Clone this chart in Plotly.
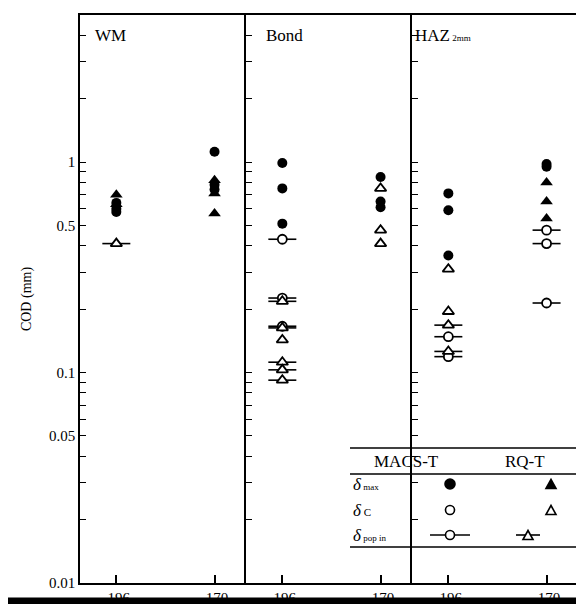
import plotly.graph_objects as go

# ---------------- data ----------------
categories = ["-196", "-170"]
panels = ["WM", "Bond", "HAZ<sub>2mm</sub>"]

# WM
wm_macs_max = {"-196": [0.64, 0.60, 0.58], "-170": [1.12, 0.78, 0.74]}
wm_rq_max = {"-196": [0.70, 0.63], "-170": [0.82, 0.71, 0.57]}
wm_macs_c = {"-196": [], "-170": []}
wm_rq_c = {"-196": [], "-170": []}
wm_macs_pop = {"-196": [], "-170": []}
wm_rq_pop = {"-196": [0.41], "-170": []}

# Bond
bond_macs_max = {"-196": [0.99, 0.75, 0.51], "-170": [0.85, 0.65, 0.61]}
bond_rq_max = {"-196": [], "-170": []}
bond_macs_c = {"-196": [], "-170": []}
bond_rq_c = {"-196": [0.143], "-170": [0.75, 0.475, 0.41]}
bond_macs_pop = {"-196": [0.43, 0.226, 0.166], "-170": []}
bond_rq_pop = {"-196": [0.218, 0.163, 0.112, 0.103, 0.092], "-170": []}

# HAZ 2mm
haz_macs_max = {"-196": [0.71, 0.59, 0.36], "-170": [0.98, 0.95]}
haz_rq_max = {"-196": [], "-170": [0.80, 0.65, 0.54]}
haz_macs_c = {"-196": [], "-170": []}
haz_rq_c = {"-196": [0.31, 0.195], "-170": []}
haz_macs_pop = {"-196": [0.148, 0.119], "-170": [0.475, 0.41, 0.214]}
haz_rq_pop = {"-196": [0.168, 0.126], "-170": []}

panel_data = [
    dict(macs_max=wm_macs_max, rq_max=wm_rq_max, macs_c=wm_macs_c, rq_c=wm_rq_c,
         macs_pop=wm_macs_pop, rq_pop=wm_rq_pop),
    dict(macs_max=bond_macs_max, rq_max=bond_rq_max, macs_c=bond_macs_c, rq_c=bond_rq_c,
         macs_pop=bond_macs_pop, rq_pop=bond_rq_pop),
    dict(macs_max=haz_macs_max, rq_max=haz_rq_max, macs_c=haz_macs_c, rq_c=haz_rq_c,
         macs_pop=haz_macs_pop, rq_pop=haz_rq_pop),
]

y_tickvals = [0.01, 0.02, 0.03, 0.04, 0.05, 0.06, 0.07, 0.08, 0.09,
              0.1, 0.2, 0.3, 0.4, 0.5, 0.6, 0.7, 0.8, 0.9, 1, 2, 3, 4, 5]
y_labeled = {0.01: "0.01", 0.05: "0.05", 0.1: "0.1", 0.5: "0.5", 1: "1", 5: "5"}
y_ticktext = [y_labeled.get(v, "") for v in y_tickvals]

legend_cols = ["MACS-T", "RQ-T"]
legend_rows = ["<i>δ</i><span style='font-size:9px'> max</span>",
               "<i>δ</i><span style='font-size:11px'> C</span>",
               "<i>δ</i><span style='font-size:9px'> pop in</span>"]

# ---------------- figure ----------------
SERIF = "Liberation Serif"
fig = go.Figure()

def flat(d):
    xs, ys = [], []
    for c in categories:
        for v in d[c]:
            xs.append(c)
            ys.append(v)
    return xs, ys

styles = {
    "macs_max": dict(symbol="circle", size=10, color="black", line=dict(width=0, color="black")),
    "rq_max": dict(symbol="triangle-up", size=11, color="black", line=dict(width=0, color="black")),
    "macs_c": dict(symbol="circle", size=9, color="white", line=dict(width=1.8, color="black")),
    "rq_c": dict(symbol="triangle-up", size=10, color="white", line=dict(width=1.8, color="black")),
    "macs_pop": dict(symbol="circle", size=9, color="white", line=dict(width=1.8, color="black")),
    "rq_pop": dict(symbol="triangle-up", size=10, color="white", line=dict(width=1.8, color="black")),
}

for i, pd_ in enumerate(panel_data):
    xa = "x" if i == 0 else f"x{i+1}"
    ya = "y" if i == 0 else f"y{i+1}"
    for key in ["macs_pop", "rq_pop"]:
        xs, ys = flat(pd_[key])
        if xs:
            fig.add_trace(go.Scatter(x=xs, y=ys, xaxis=xa, yaxis=ya, mode="markers",
                                     marker=dict(symbol="line-ew", size=20,
                                                 line=dict(width=1.6, color="black")),
                                     showlegend=False, hoverinfo="skip"))
    for key in ["macs_max", "rq_max", "macs_c", "rq_c", "macs_pop", "rq_pop"]:
        xs, ys = flat(pd_[key])
        if xs:
            fig.add_trace(go.Scatter(x=xs, y=ys, xaxis=xa, yaxis=ya, mode="markers",
                                     marker=styles[key], showlegend=False))

# page body has an 8px margin: figure is offset by 8px, so shrink and shift
OFF = 8
domains = [[0.0, 0.3333], [0.3333, 0.6667], [0.6667, 1.0]]
layout = dict(
    width=584 - OFF, height=606 - OFF,
    margin=dict(l=80 - OFF, r=6, t=15 - OFF, b=23),
    paper_bgcolor="white", plot_bgcolor="white",
    font=dict(family=SERIF, color="black", size=15),
    showlegend=False,
)
for i in range(3):
    xk = "xaxis" if i == 0 else f"xaxis{i+1}"
    yk = "yaxis" if i == 0 else f"yaxis{i+1}"
    xa_anchor = "y" if i == 0 else f"y{i+1}"
    ya_anchor = "x" if i == 0 else f"x{i+1}"
    layout[xk] = dict(domain=domains[i], anchor=xa_anchor, type="category",
                      categoryorder="array", categoryarray=categories,
                      range=[-0.37, 1.32], showgrid=False, zeroline=False,
                      showline=True, linecolor="black", linewidth=1.5, mirror=True,
                      ticks="inside", ticklen=8, tickcolor="black", tickwidth=1.5,
                      automargin=False,
                      tickfont=dict(family=SERIF, size=15, color="black"))
    layout[yk] = dict(domain=[0, 1], anchor=ya_anchor, type="log",
                      range=[-2, 0.69897], showgrid=False, zeroline=False,
                      showline=True, linecolor="black", linewidth=1.5,
                      mirror=(i == 2),
                      ticks="inside", ticklen=6, tickcolor="black", tickwidth=1.2,
                      tickvals=y_tickvals, ticktext=y_ticktext,
                      showticklabels=(i == 0), automargin=False,
                      tickfont=dict(family=SERIF, size=15, color="black"))
layout["yaxis"]["title"] = dict(text="COD (mm)", font=dict(family=SERIF, size=14, color="black"),
                                standoff=14)
fig.update_layout(**layout)

# panel titles
title_pos = [(0.027, "WM"), (0.37, "Bond"), (0.668, "HAZ<span style='font-size:9px'> 2mm</span>")]
for xp, t in title_pos:
    fig.add_annotation(x=xp, y=0.985, xref="paper", yref="paper", text=t,
                       showarrow=False, xanchor="left", yanchor="top",
                       font=dict(family=SERIF, size=17, color="black"))

# legend table (positions given in page pixels, converted to paper)
def px_to_x(px):
    return (px - 80) / 498.0

def py_to_y(py):
    return (583 - py) / 568.0

TXT_DY = 12  # annotation text renders high; compensate

for yy in [448, 474, 547]:
    fig.add_shape(type="line", xref="paper", yref="paper",
                  x0=px_to_x(350), x1=1.0, y0=py_to_y(yy), y1=py_to_y(yy),
                  line=dict(color="black", width=1.3))

col_x = [450, 551]
head_x = [441, 547]
for hx, name in zip(head_x, legend_cols):
    fig.add_annotation(x=px_to_x(hx), y=py_to_y(461 + TXT_DY), xref="paper", yref="paper",
                       text=name, showarrow=False,
                       font=dict(family=SERIF, size=17, color="black"))

row_y = [484, 510, 535]
for ry, lab in zip(row_y, legend_rows):
    fig.add_annotation(x=px_to_x(351), y=py_to_y(ry + TXT_DY), xref="paper", yref="paper",
                       text=lab, showarrow=False, xanchor="left",
                       font=dict(family=SERIF, size=17, color="black"))

def circle(cx, cy, r, filled):
    fig.add_shape(type="circle", xref="paper", yref="paper",
                  x0=px_to_x(cx - r), x1=px_to_x(cx + r),
                  y0=py_to_y(cy + r), y1=py_to_y(cy - r),
                  fillcolor="black" if filled else "white",
                  line=dict(color="black", width=1.6))

def triangle(cx, cy, s, filled):
    h = s * 0.9
    p = (f"M {px_to_x(cx - s/2)},{py_to_y(cy + h/2)} "
         f"L {px_to_x(cx + s/2)},{py_to_y(cy + h/2)} "
         f"L {px_to_x(cx)},{py_to_y(cy - h/2)} Z")
    fig.add_shape(type="path", xref="paper", yref="paper", path=p,
                  fillcolor="black" if filled else "white",
                  line=dict(color="black", width=1.6))

def bar(cx, cy, half):
    fig.add_shape(type="line", xref="paper", yref="paper",
                  x0=px_to_x(cx - half), x1=px_to_x(cx + half),
                  y0=py_to_y(cy), y1=py_to_y(cy),
                  line=dict(color="black", width=1.6))

# delta max
circle(col_x[0], row_y[0], 5, True)
triangle(col_x[1], row_y[0], 10, True)
# delta c
circle(col_x[0], row_y[1], 4.5, False)
triangle(col_x[1], row_y[1], 10, False)
# delta pop-in
bar(col_x[0], row_y[2], 20)
circle(col_x[0], row_y[2], 4.5, False)
bar(528, row_y[2], 12)
triangle(528, row_y[2], 10, False)

# black scan bar at bottom
fig.add_shape(type="rect", xref="paper", yref="paper", layer="above",
              x0=px_to_x(0), x1=px_to_x(584), y0=py_to_y(604), y1=py_to_y(597.5),
              fillcolor="black", line=dict(width=0))

fig.write_html("out.html")
